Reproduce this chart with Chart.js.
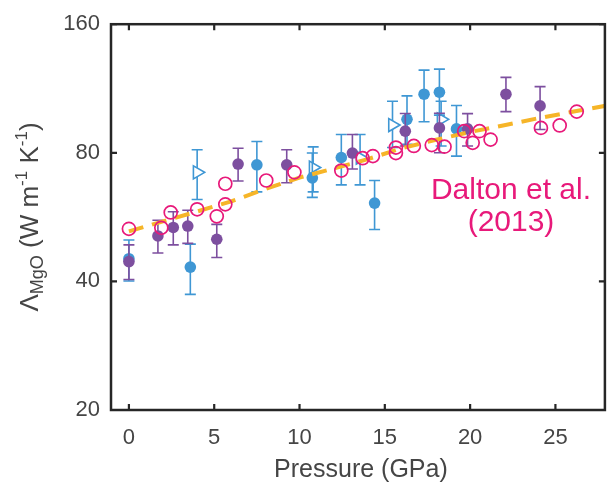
<!DOCTYPE html>
<html>
<head>
<meta charset="utf-8">
<script src="https://cdn.jsdelivr.net/npm/chart.js@4.4.1/dist/chart.umd.min.js"></script>
<style>
    html, body { margin: 0; padding: 0; background: #fff; }
    #wrap { width: 614px; height: 484px; }
</style>
</head>
<body>
<div id="wrap"><canvas id="chart" width="614" height="484"></canvas></div>
<script>
// Axis ticks
const xTicks = [0, 5, 10, 15, 20, 25];
const yTicks = [20, 40, 80, 160];

// Blue filled circles (with error bars)
const blueP  = [0, 3.6, 7.5, 10.75, 12.45, 14.4, 16.3, 17.3, 18.2, 19.2];
const blueK  = [45.2, 43.2, 75.0, 69.9, 78.0, 61.0, 95.8, 109.7, 110.9, 91.0];
const blueLo = [40.1, 37.3, 64.8, 62.9, 67.3, 52.9, 83.7, 94.6, 98.0, 78.6];
const blueHi = [50.0, 48.9, 85.0, 79.9, 88.3, 68.9, 108.7, 124.9, 125.6, 103.2];

// Blue open triangles (with error bars)
const triP  = [4.0, 10.8, 13.55, 15.45, 18.3];
const triK  = [72.0, 73.9, 77.9, 92.9, 95.8];
const triLo = [62.2, 64.8, 67.3, 82.3, 83.0];
const triHi = [81.3, 82.6, 88.3, 105.6, 105.6];

// Purple filled circles (with error bars)
const purpleP  = [0, 1.7, 2.6, 3.45, 5.15, 6.4, 9.25, 13.1, 16.2, 18.2, 19.85, 22.1, 24.1];
const purpleK  = [44.5, 51.1, 53.5, 53.9, 50.2, 75.3, 75.0, 79.9, 89.9, 91.5, 91.0, 109.7, 103.0];
const purpleLo = [40.4, 46.6, 48.7, 49.1, 45.5, 68.7, 68.1, 73.3, 83.0, 80.0, 83.0, 99.9, 90.7];
const purpleHi = [48.7, 55.6, 58.2, 58.7, 54.4, 82.0, 81.3, 88.3, 98.9, 99.0, 98.8, 120.1, 114.3];

// Dalton et al. (2013) open circles
const daltonP = [0, 1.9, 2.45, 4.0, 5.15, 5.65, 5.65, 8.05, 9.7, 12.45, 13.7, 14.3, 15.65, 15.65, 16.7, 17.75, 18.5, 19.65, 20.15, 20.55, 21.2, 24.15, 25.25, 26.25];
const daltonK = [53.1, 53.4, 58.0, 59.0, 56.8, 60.6, 67.7, 68.9, 72.0, 72.7, 77.7, 78.6, 79.9, 82.3, 83.0, 83.4, 82.7, 89.9, 84.4, 89.9, 85.9, 91.5, 92.7, 99.9];

// Dashed fit curve
const fitP = [0, 2, 4, 6, 8, 10, 12, 14, 16, 18, 20, 22, 24, 26, 28];
const fitK = [52.4, 55.3, 58.3, 61.6, 65.8, 70.0, 73.5, 77.3, 82.0, 85.8, 89.5, 92.8, 96.4, 99.8, 103.2];

const FONT = "'Liberation Sans', Arial, sans-serif";
const TEXT = '#454545';
const BLUE = '#3f97d4';
const PURPLE = '#7d4f9f';
const PINK = '#e8197a';
const ORANGE = '#f6b528';

const pts = (xs, ys) => xs.map((x, i) => ({ x: x, y: ys[i] }));

// error bars drawn just before each dataset's markers
const errorBars = {
    id: 'errorBars',
    beforeDatasetDraw(chart, args) {
        const ds = chart.data.datasets[args.index];
        if (!ds.errLo) return;
        const ctx = chart.ctx;
        const xs = chart.scales.x, ys = chart.scales.y;
        ctx.save();
        ctx.strokeStyle = ds.borderColor;
        ctx.lineWidth = 1.6;
        ds.data.forEach((p, i) => {
            const x = xs.getPixelForValue(p.x);
            const y1 = ys.getPixelForValue(ds.errLo[i]);
            const y2 = ys.getPixelForValue(ds.errHi[i]);
            ctx.beginPath();
            ctx.moveTo(x, y1); ctx.lineTo(x, y2);
            ctx.moveTo(x - 5.5, y1); ctx.lineTo(x + 5.5, y1);
            ctx.moveTo(x - 5.5, y2); ctx.lineTo(x + 5.5, y2);
            ctx.stroke();
        });
        ctx.restore();
    }
};

// box frame with inward ticks, axis titles and the annotation
const decorations = {
    id: 'decorations',
    afterDraw(chart) {
        const ctx = chart.ctx;
        const a = chart.chartArea;
        const xs = chart.scales.x, ys = chart.scales.y;
        ctx.save();
        ctx.strokeStyle = '#262626';
        ctx.lineWidth = 2.5;
        ctx.strokeRect(a.left, a.top, a.right - a.left, a.bottom - a.top);
        ctx.lineWidth = 2.2;
        ctx.beginPath();
        xTicks.forEach(v => {
            const x = xs.getPixelForValue(v);
            ctx.moveTo(x, a.bottom); ctx.lineTo(x, a.bottom - 6);
            ctx.moveTo(x, a.top); ctx.lineTo(x, a.top + 6);
        });
        yTicks.forEach(v => {
            const y = ys.getPixelForValue(v);
            ctx.moveTo(a.left, y); ctx.lineTo(a.left + 6, y);
            ctx.moveTo(a.right, y); ctx.lineTo(a.right - 6, y);
        });
        ctx.stroke();

        // x title
        ctx.fillStyle = TEXT;
        ctx.textAlign = 'center';
        ctx.textBaseline = 'middle';
        ctx.font = '25px ' + FONT;
        ctx.fillText('Pressure (GPa)', (a.left + a.right) / 2 + 3, 470);

        // y title with sub/superscripts
        const parts = [
            { t: '\u039B', size: 26, dy: 0 },
            { t: 'MgO', size: 18, dy: 7 },
            { t: ' (W m', size: 26, dy: 0 },
            { t: '-1', size: 17, dy: -9 },
            { t: ' K', size: 26, dy: 0 },
            { t: '-1', size: 17, dy: -9 },
            { t: ')', size: 26, dy: 0 }
        ];
        let total = 0;
        parts.forEach(p => { ctx.font = p.size + 'px ' + FONT; p.w = ctx.measureText(p.t).width; total += p.w; });
        ctx.translate(31, 217);
        ctx.rotate(-Math.PI / 2);
        ctx.textAlign = 'left';
        let cx = -total / 2;
        parts.forEach(p => {
            ctx.font = p.size + 'px ' + FONT;
            ctx.fillText(p.t, cx, p.dy);
            cx += p.w;
        });
        ctx.restore();

        // annotation
        ctx.save();
        ctx.fillStyle = PINK;
        ctx.textAlign = 'center';
        ctx.textBaseline = 'middle';
        ctx.font = '30px ' + FONT;
        ctx.fillText('Dalton et al.', 511, 191);
        ctx.fillText('(2013)', 511, 223);
        ctx.restore();
    }
};

const ctx = document.getElementById('chart').getContext('2d');
new Chart(ctx, {
    type: 'scatter',
    data: {
        datasets: [
            {
                label: 'Dalton et al. (2013)',
                data: pts(daltonP, daltonK),
                pointStyle: 'circle',
                pointRadius: 6.5,
                pointBorderWidth: 1.7,
                borderColor: PINK,
                backgroundColor: 'rgba(255,255,255,0)',
                order: 1
            },
            {
                label: 'fit',
                data: pts(fitP, fitK),
                showLine: true,
                borderColor: ORANGE,
                borderWidth: 4,
                borderDash: [15, 9],
                pointRadius: 0,
                fill: false,
                order: 2
            },
            {
                label: 'purple',
                data: pts(purpleP, purpleK),
                errLo: purpleLo,
                errHi: purpleHi,
                pointRadius: 5.8,
                pointBorderWidth: 0,
                borderColor: PURPLE,
                backgroundColor: PURPLE,
                order: 3
            },
            {
                label: 'blue',
                data: pts(blueP, blueK),
                errLo: blueLo,
                errHi: blueHi,
                pointRadius: 5.8,
                pointBorderWidth: 0,
                borderColor: BLUE,
                backgroundColor: BLUE,
                order: 4
            },
            {
                label: 'blue triangles',
                data: pts(triP, triK),
                errLo: triLo,
                errHi: triHi,
                pointStyle: 'triangle',
                rotation: 90,
                pointRadius: 7.5,
                pointBorderWidth: 1.6,
                borderColor: BLUE,
                backgroundColor: '#ffffff',
                order: 5
            }
        ]
    },
    options: {
        responsive: false,
        animation: false,
        devicePixelRatio: 1,
        layout: { padding: { top: 22, right: 2, left: 0, bottom: 0 } },
        plugins: {
            legend: { display: false },
            tooltip: { enabled: false }
        },
        scales: {
            x: {
                type: 'linear',
                min: -1.05,
                max: 27.9,
                grid: { display: false, drawTicks: false },
                border: { display: false },
                ticks: { font: { family: FONT, size: 22 }, color: TEXT, padding: 15, maxRotation: 0 },
                afterBuildTicks: s => { s.ticks = xTicks.map(v => ({ value: v })); },
                afterFit: s => { s.height = 74; }
            },
            y: {
                type: 'logarithmic',
                min: 20,
                max: 160,
                grid: { display: false, drawTicks: false },
                border: { display: false },
                ticks: { font: { family: FONT, size: 22 }, color: TEXT, padding: 11, callback: v => String(v) },
                afterBuildTicks: s => { s.ticks = yTicks.map(v => ({ value: v })); },
                afterFit: s => { s.width = 111; }
            }
        }
    },
    plugins: [errorBars, decorations]
});
</script>
</body>
</html>
